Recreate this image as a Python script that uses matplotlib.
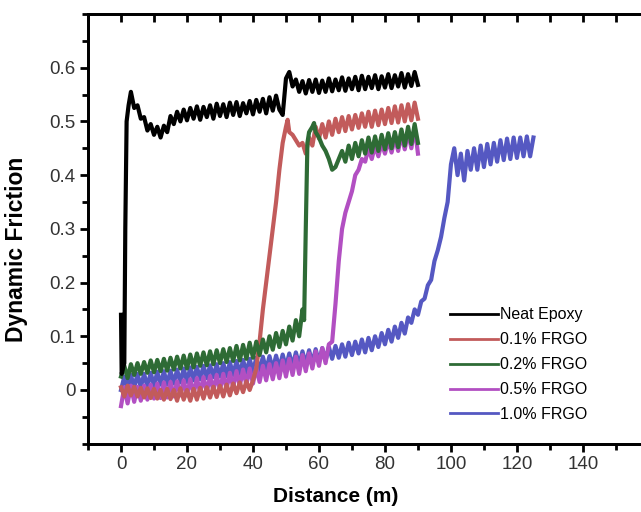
import numpy as np
import matplotlib.pyplot as plt
from matplotlib.ticker import MultipleLocator
from matplotlib.lines import Line2D

plt.rcParams['font.family'] = ['Liberation Sans', 'DejaVu Sans']

# distance (m) and dynamic friction
neat_x = [0, 0.2, 1.0, 1.3, 1.7, 2.3] + list(range(3, 91))
neat_y = [0.14, 0.03, 0.05, 0.30, 0.50, 0.53,
          0.555, 0.525, 0.530, 0.505, 0.508, 0.483, 0.495, 0.475, 0.490, 0.470,
          0.492, 0.480, 0.510, 0.495, 0.518, 0.500, 0.522, 0.502, 0.525, 0.505,
          0.528, 0.503, 0.527, 0.508, 0.530, 0.505, 0.533, 0.510, 0.532, 0.508,
          0.535, 0.512, 0.536, 0.510, 0.534, 0.515, 0.538, 0.513, 0.540, 0.518,
          0.542, 0.515, 0.545, 0.520, 0.548, 0.522, 0.512, 0.580, 0.592, 0.565,
          0.578, 0.555, 0.575, 0.552, 0.577, 0.555, 0.578, 0.553, 0.576, 0.555,
          0.580, 0.556, 0.578, 0.558, 0.582, 0.557, 0.580, 0.560, 0.583, 0.558,
          0.585, 0.560, 0.583, 0.562, 0.586, 0.560, 0.584, 0.563, 0.588, 0.562,
          0.586, 0.565, 0.590, 0.563, 0.588, 0.566, 0.592, 0.568]

frgo01_x = list(range(0, 51)) + [50.5] + list(range(51, 91))
frgo01_y = [0.005, -0.012, 0.008, -0.010, 0.006, -0.012, 0.004, -0.014, 0.003, -0.015,
            0.002, -0.016, 0.000, -0.018, 0.002, -0.017, 0.000, -0.020, 0.003, -0.018,
            0.000, -0.020, 0.002, -0.018, 0.004, -0.016, 0.005, -0.014, 0.006, -0.013,
            0.008, -0.012, 0.010, -0.010, 0.012, -0.006, 0.014, -0.004, 0.016, 0.000,
            0.018, 0.04, 0.09, 0.15, 0.20, 0.25, 0.30, 0.35, 0.41, 0.46,
            0.49, 0.503, 0.48, 0.475, 0.465, 0.455, 0.46, 0.44, 0.47, 0.455,
            0.49, 0.468, 0.495, 0.47, 0.50, 0.475, 0.505, 0.48, 0.508, 0.482,
            0.51, 0.485, 0.512, 0.488, 0.515, 0.49, 0.518, 0.49, 0.52, 0.493,
            0.522, 0.495, 0.525, 0.497, 0.528, 0.498, 0.53, 0.50, 0.532, 0.502,
            0.535, 0.505]

frgo02_x = list(range(0, 56)) + [55.5, 56, 56.5, 57, 58, 58.5] + list(range(59, 91))
frgo02_y = [0.025, 0.045, 0.022, 0.048, 0.028, 0.05, 0.03, 0.052, 0.032, 0.055,
            0.033, 0.056, 0.035, 0.058, 0.036, 0.06, 0.038, 0.062, 0.04, 0.064,
            0.04, 0.066, 0.042, 0.068, 0.045, 0.07, 0.046, 0.072, 0.048, 0.074,
            0.05, 0.076, 0.052, 0.078, 0.054, 0.082, 0.055, 0.084, 0.058, 0.088,
            0.06, 0.09, 0.065, 0.094, 0.07, 0.10, 0.075, 0.106, 0.08, 0.11,
            0.085, 0.118, 0.092, 0.13, 0.10, 0.15,
            0.13, 0.30, 0.46, 0.48, 0.49, 0.497,
            0.48, 0.47, 0.455, 0.445, 0.43, 0.41, 0.415, 0.43, 0.445, 0.425,
            0.455, 0.43, 0.46, 0.435, 0.465, 0.44, 0.47, 0.442, 0.472, 0.445,
            0.475, 0.448, 0.478, 0.45, 0.48, 0.452, 0.485, 0.455, 0.49, 0.458,
            0.495, 0.46]

frgo05_x = list(range(0, 91))
frgo05_y = [-0.03, 0.005, -0.025, 0.008, -0.022, 0.006, -0.02, 0.008, -0.018, 0.01,
            -0.016, 0.012, -0.015, 0.014, -0.014, 0.015, -0.012, 0.016, -0.01, 0.018,
            -0.01, 0.02, -0.008, 0.022, -0.005, 0.024, -0.004, 0.026, -0.002, 0.028,
            0.0, 0.03, 0.002, 0.032, 0.005, 0.035, 0.008, 0.038, 0.01, 0.04,
            0.012, 0.042, 0.015, 0.045, 0.018, 0.048, 0.02, 0.05, 0.022, 0.055,
            0.025, 0.058, 0.028, 0.062, 0.03, 0.065, 0.035, 0.068, 0.04, 0.072,
            0.045, 0.078, 0.05, 0.085, 0.09, 0.16, 0.24, 0.30, 0.33, 0.35,
            0.37, 0.40, 0.41, 0.43, 0.425, 0.45, 0.43, 0.455, 0.435, 0.46,
            0.44, 0.465, 0.442, 0.47, 0.445, 0.475, 0.448, 0.48, 0.45, 0.49,
            0.44]

frgo10_x = list(range(0, 126))
frgo10_y = [0.0, 0.025, 0.002, 0.028, 0.004, 0.03, 0.005, 0.03, 0.006, 0.032,
            0.008, 0.034, 0.01, 0.035, 0.01, 0.036, 0.012, 0.038, 0.014, 0.04,
            0.015, 0.042, 0.018, 0.043, 0.02, 0.045, 0.022, 0.046, 0.024, 0.048,
            0.025, 0.05, 0.026, 0.052, 0.028, 0.054, 0.03, 0.056, 0.032, 0.058,
            0.034, 0.06, 0.035, 0.062, 0.037, 0.063, 0.038, 0.064, 0.04, 0.066,
            0.042, 0.068, 0.044, 0.07, 0.046, 0.072, 0.048, 0.074, 0.05, 0.076,
            0.052, 0.078, 0.055, 0.08, 0.058, 0.082, 0.06, 0.085, 0.062, 0.088,
            0.065, 0.09, 0.068, 0.094, 0.07, 0.097, 0.074, 0.10, 0.08, 0.106,
            0.085, 0.112, 0.09, 0.118, 0.097, 0.125, 0.105, 0.135, 0.125, 0.15,
            0.14, 0.165, 0.17, 0.195, 0.205, 0.24, 0.26, 0.285, 0.32, 0.35,
            0.42, 0.45, 0.40, 0.44, 0.39, 0.445, 0.41, 0.45, 0.41, 0.455,
            0.415, 0.458, 0.42, 0.46, 0.425, 0.465, 0.428, 0.468, 0.43, 0.47,
            0.432, 0.47, 0.435, 0.472, 0.435, 0.47]

labels = ['Neat Epoxy', '0.1% FRGO', '0.2% FRGO', '0.5% FRGO', '1.0% FRGO']
colors = ['#000000', '#c25b5b', '#2e6b35', '#b24fc2', '#5558c2']

fig = plt.figure(figsize=(6.41, 5.12), dpi=100)
ax = fig.add_axes([0.1373, 0.1334, 0.8627, 0.8393])

series = [(neat_x, neat_y), (frgo01_x, frgo01_y), (frgo02_x, frgo02_y),
          (frgo05_x, frgo05_y), (frgo10_x, frgo10_y)]
# draw order: blue and pink at the back, black on top
for i in [4, 3, 1, 2, 0]:
    x, y = series[i]
    ax.plot(x, y, color=colors[i], lw=3)

ax.set_xlim(-10, 157.6)
ax.set_ylim(-0.1, 0.7)
ax.set_xticks(np.arange(0, 141, 20))
ax.xaxis.set_minor_locator(MultipleLocator(10))

# top axis: inward ticks, no labels
top = ax.twiny()
top.set_xlim(ax.get_xlim())
top.set_xticks(np.arange(0, 141, 20))
top.xaxis.set_minor_locator(MultipleLocator(10))
top.tick_params(axis='x', which='both', direction='in', length=6, width=2,
                labeltop=False, top=True, bottom=False)
top.spines['right'].set_visible(False)
for s in ['left', 'bottom', 'top']:
    top.spines[s].set_linewidth(2)

ax.yaxis.set_minor_locator(MultipleLocator(0.05))
ax.set_yticks(np.arange(0, 0.61, 0.1))
ax.set_yticklabels(['0', '0.1', '0.2', '0.3', '0.4', '0.5', '0.6'])

for s in ['left', 'bottom', 'top']:
    ax.spines[s].set_linewidth(2)
ax.spines['right'].set_visible(False)

ax.tick_params(which='major', direction='out', length=6, width=2,
               labelsize=13.5, labelcolor='#333333', pad=3)
ax.tick_params(which='minor', direction='out', length=4, width=2)

ax.set_xlabel('Distance (m)', fontsize=15, fontweight='bold')
ax.set_ylabel('Dynamic Friction', fontsize=16.5, fontweight='bold')
ax.xaxis.set_label_coords(0.447, -0.10)
ax.yaxis.set_label_coords(-0.1085, 0.453)

handles = [Line2D([], [], color=c, lw=2) for c in colors]
ax.legend(handles, labels, loc='upper left',
          bbox_to_anchor=(0.655, 0.317), frameon=False, fontsize=11.5,
          handlelength=3.0, handletextpad=0.1, borderpad=0,
          borderaxespad=0, labelspacing=0.62)

fig.savefig('out.png', dpi=100)
